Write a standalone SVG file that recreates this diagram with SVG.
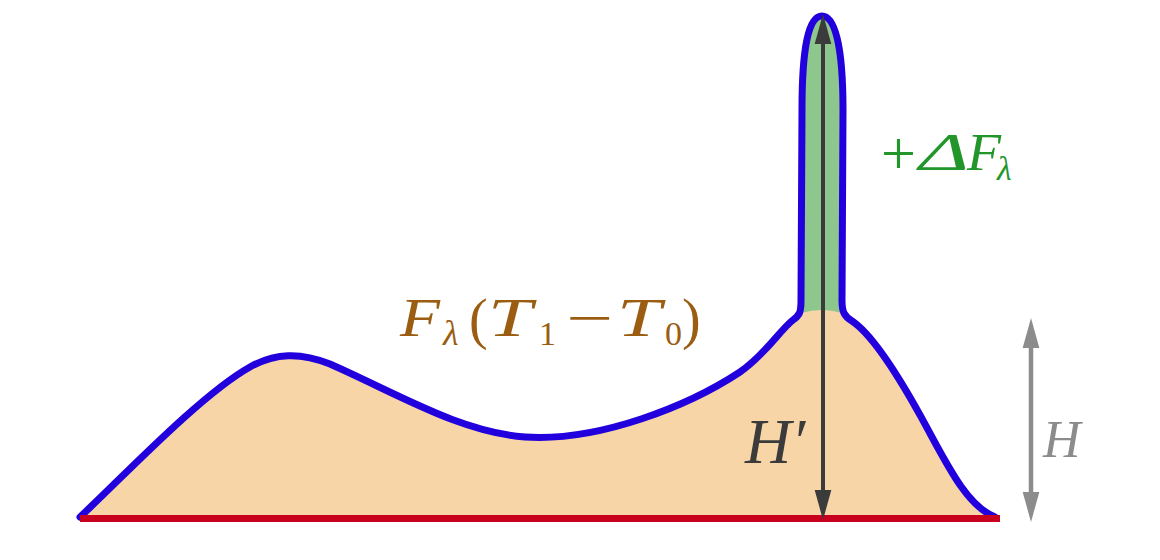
<svg xmlns="http://www.w3.org/2000/svg" width="1160" height="560" viewBox="0 0 1160 560">
<style>
.math{font-family:"Liberation Serif","DejaVu Serif",serif;}
.it{font-style:italic;}
.curve{fill:none;stroke:#2200dd;stroke-width:7;stroke-linejoin:round;stroke-linecap:round;}
.brown{fill:#9b5d12;}
.green{fill:#23962b;}
</style>
<defs>
<marker id="headDark" markerUnits="userSpaceOnUse" markerWidth="30" markerHeight="18" refX="0" refY="7.5" orient="auto-start-reverse" viewBox="0 0 27 15">
<path d="M0,0 L27,7.5 L0,15 Z" fill="#3b3b3b"/>
</marker>
<marker id="headGray" markerUnits="userSpaceOnUse" markerWidth="30" markerHeight="18" refX="0" refY="7.5" orient="auto-start-reverse" viewBox="0 0 27 15">
<path d="M0,0 L27,7.5 L0,15 Z" fill="#8c8c8c"/>
</marker>
</defs>
<rect width="1160" height="560" fill="#ffffff"/>
<g id="profile">
<path id="fill-orange" fill="#f8d5a7" d="M 80 518 L 80 517 C 120 480, 200 395, 250 367 C 275 353, 300 352, 330 364 C 400 395, 460 432, 525 437 C 600 442, 690 405, 740 372 C 765 355, 780 330, 793 320 C 800 315, 801 312, 801 300 L 802 110 C 802 50, 808 16, 822 16 C 836 16, 843 50, 843 110 L 842 300 C 842 312, 844 316, 852 321 C 870 333, 895 370, 920 415 C 945 460, 965 505, 995 517 L 995 518 Z"/>
<path id="fill-green" fill="#8dc78d" d="M 801 313 L 801 300 L 802 110 C 802 50, 808 16, 822 16 C 836 16, 843 50, 843 110 L 842 300 L 842 313 Q 822 307 801 313 Z"/>
<path id="outline" class="curve" d="M 80 517 C 120 480, 200 395, 250 367 C 275 353, 300 352, 330 364 C 400 395, 460 432, 525 437 C 600 442, 690 405, 740 372 C 765 355, 780 330, 793 320 C 800 315, 801 312, 801 300 L 802 110 C 802 50, 808 16, 822 16 C 836 16, 843 50, 843 110 L 842 300 C 842 312, 844 316, 852 321 C 870 333, 895 370, 920 415 C 945 460, 965 505, 995 517"/>
<line id="baseline" x1="80" y1="518.5" x2="1000" y2="518.5" stroke="#c8001e" stroke-width="7"/>
</g>
<g id="connectors">
<line id="arrow-Hprime" x1="823" y1="44" x2="823" y2="490" stroke="#3b3b3b" stroke-width="4" marker-start="url(#headDark)" marker-end="url(#headDark)"/>
<line id="arrow-H" x1="1031" y1="348" x2="1031" y2="492" stroke="#8c8c8c" stroke-width="4.5" marker-start="url(#headGray)" marker-end="url(#headGray)"/>
</g>
<g id="label-F" class="math brown">
<text class="it" x="400" y="336" font-size="54" textLength="40" lengthAdjust="spacingAndGlyphs">F</text>
<text class="it" x="443" y="345" font-size="36">λ</text>
<text x="469" y="338" font-size="56">(</text>
<text class="it" x="488" y="336" font-size="54" textLength="44" lengthAdjust="spacingAndGlyphs">T</text>
<text x="539" y="345" font-size="34">1</text>
<text x="566" y="336" font-size="54" textLength="47" lengthAdjust="spacingAndGlyphs">−</text>
<text class="it" x="617" y="336" font-size="54" textLength="44" lengthAdjust="spacingAndGlyphs">T</text>
<text x="665" y="345" font-size="34">0</text>
<text x="682" y="338" font-size="56">)</text>
</g>
<g id="label-dF" class="math green">
<text x="881" y="174" font-size="62">+</text>
<text class="it" x="919" y="170" font-size="52" textLength="50" lengthAdjust="spacingAndGlyphs">Δ</text>
<text class="it" x="967" y="170" font-size="52" textLength="34" lengthAdjust="spacingAndGlyphs">F</text>
<text class="it" x="997" y="180" font-size="34">λ</text>
</g>
<g id="label-Hprime">
<text class="math it" x="745" y="463" font-size="64" fill="#3b3b3b">H′</text>
</g>
<g id="label-H">
<text class="math it" x="1043" y="457" font-size="52" fill="#8c8c8c">H</text>
</g>
</svg>
